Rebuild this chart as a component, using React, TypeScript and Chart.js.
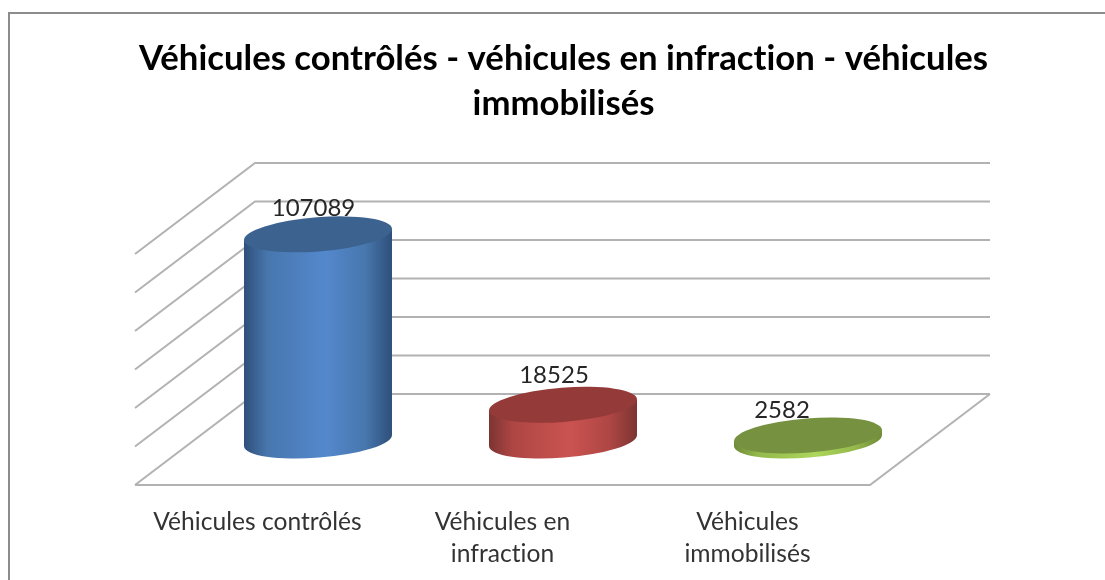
import React, { useEffect, useRef } from "react";
import { Chart, registerables } from "chart.js";

Chart.register(...registerables);

const titleLines = ["Véhicules contrôlés - véhicules en infraction - véhicules", "immobilisés"];
const categories = [["Véhicules contrôlés"], ["Véhicules en", "infraction"], ["Véhicules", "immobilisés"]];
const values = [107089, 18525, 2582];
const axisMax = 120000;
const axisStep = 20000;

const edgeColors = ["#2e4f7a", "#7c3432", "#6f8a38"];
const shoulderColors = ["#4877ae", "#ad4644", "#94b84c"];
const centerColors = ["#5488cd", "#cb5350", "#acd65c"];
const capColors = ["#3c6390", "#943b39", "#769240"];

const DEPTH_X = 120;
const DEPTH_Y = 91;
const TILT = (-4.5 * Math.PI) / 180;
const labelShift: [number, number][] = [[-4.5, -26], [-9, -30], [-26, -25]];

const walls = {
  id: "walls",
  beforeInit(chart: any) {
    chart.ctx.letterSpacing = "0.01px";
  },
  beforeDraw(chart: any) {
    const { ctx, width, height } = chart;
    ctx.letterSpacing = "0.01px";
    ctx.save();
    ctx.fillStyle = "#ffffff";
    ctx.fillRect(0, 0, width, height);
    ctx.strokeStyle = "#8c8c8c";
    ctx.lineWidth = 2;
    ctx.beginPath();
    ctx.moveTo(9, height);
    ctx.lineTo(9, 13);
    ctx.lineTo(width, 13);
    ctx.stroke();
    ctx.restore();
  },
  beforeDatasetsDraw(chart: any) {
    const { ctx, chartArea, scales } = chart;
    const backLeft = chartArea.left + DEPTH_X;
    const backRight = chartArea.right + DEPTH_X;
    ctx.save();
    ctx.strokeStyle = "#b2b2b2";
    ctx.lineWidth = 2;
    ctx.beginPath();
    for (const tick of scales.y.ticks) {
      const y = scales.y.getPixelForValue(tick.value);
      ctx.moveTo(chartArea.left, y + DEPTH_Y);
      ctx.lineTo(backLeft, y);
      ctx.lineTo(backRight, y);
    }
    const floorBack = scales.y.getPixelForValue(0);
    ctx.moveTo(backRight, floorBack);
    ctx.lineTo(chartArea.right, floorBack + DEPTH_Y);
    ctx.lineTo(chartArea.left, floorBack + DEPTH_Y);
    ctx.stroke();
    ctx.restore();
  },
  beforeDatasetDraw(chart: any) {
    const { ctx } = chart;
    const meta = chart.getDatasetMeta(0);
    meta.data.forEach((bar: any, i: number) => {
      const cx = bar.x + DEPTH_X / 2 + 0.5;
      const topY = bar.y + DEPTH_Y / 2 + 1;
      const baseY = bar.base + DEPTH_Y / 2 + 1;
      const halfW = bar.width / 2;
      const a = halfW * 1.003;
      const b = 17.1;
      const sideDrop = 5.5;
      const grad = ctx.createLinearGradient(cx - halfW, 0, cx + halfW, 0);
      grad.addColorStop(0, edgeColors[i]);
      grad.addColorStop(0.16, shoulderColors[i]);
      grad.addColorStop(0.55, centerColors[i]);
      grad.addColorStop(0.82, shoulderColors[i]);
      grad.addColorStop(1, edgeColors[i]);
      ctx.save();
      ctx.fillStyle = grad;
      ctx.beginPath();
      ctx.ellipse(cx, baseY, a, b, TILT, 0, Math.PI * 2);
      ctx.fill();
      ctx.beginPath();
      ctx.moveTo(cx - halfW, topY + sideDrop);
      ctx.lineTo(cx - halfW, baseY + sideDrop);
      ctx.lineTo(cx + halfW, baseY - sideDrop);
      ctx.lineTo(cx + halfW, topY - sideDrop);
      ctx.closePath();
      ctx.fill();
      ctx.fillStyle = capColors[i];
      ctx.beginPath();
      ctx.ellipse(cx, topY, a, b, TILT, 0, Math.PI * 2);
      ctx.fill();
      ctx.fillStyle = "#262626";
      ctx.font = "24px Lato";
      ctx.textAlign = "center";
      ctx.textBaseline = "middle";
      ctx.fillText(String(values[i]), cx + labelShift[i][0], topY + labelShift[i][1]);
      ctx.restore();
    });
    return false;
  },
};

export default function App() {
  const ref = useRef<HTMLCanvasElement>(null);
  useEffect(() => {
    const chart = new Chart(ref.current as HTMLCanvasElement, {
      type: "bar",
      plugins: [walls],
      data: {
        labels: categories as any,
        datasets: [
          {
            data: values,
            backgroundColor: centerColors,
            categoryPercentage: 1,
            barPercentage: 0.604,
          },
        ],
      },
      options: {
        responsive: false,
        animation: false,
        layout: { padding: { left: 22, right: 0, top: 0, bottom: 0 } },
        plugins: {
          legend: { display: false },
          tooltip: { enabled: false },
          title: {
            display: true,
            text: titleLines,
            color: "#000000",
            font: { family: "Lato", size: 34.7, weight: "bold", lineHeight: 45 / 34.7 },
            padding: { top: 36, bottom: 37 },
          },
        },
        scales: {
          x: {
            grid: { display: false, drawTicks: false },
            border: { display: false },
            ticks: {
              autoSkip: false,
              maxRotation: 0,
              minRotation: 0,
              padding: 112,
              color: "#333333",
              font: { family: "Lato", size: 24.6, lineHeight: 32 / 24.6 },
            },
            afterFit(scale: any) {
              scale.height = 186;
            },
          },
          y: {
            min: 0,
            max: axisMax,
            grid: { display: false, drawTicks: false },
            border: { display: false },
            ticks: { display: false, stepSize: axisStep },
            afterFit(scale: any) {
              scale.width = 113;
            },
          },
          yRight: {
            type: "linear",
            axis: "y",
            position: "right",
            grid: { display: false, drawTicks: false },
            border: { display: false },
            ticks: { display: false },
            afterFit(scale: any) {
              scale.width = 235;
            },
          },
        },
      } as any,
    });
    return () => chart.destroy();
  }, []);
  return (
    <div style={{ position: "fixed", left: 0, top: 0, width: 1105, height: 580 }}>
      <canvas ref={ref} width={1105} height={580} style={{ display: "block" }} />
    </div>
  );
}
